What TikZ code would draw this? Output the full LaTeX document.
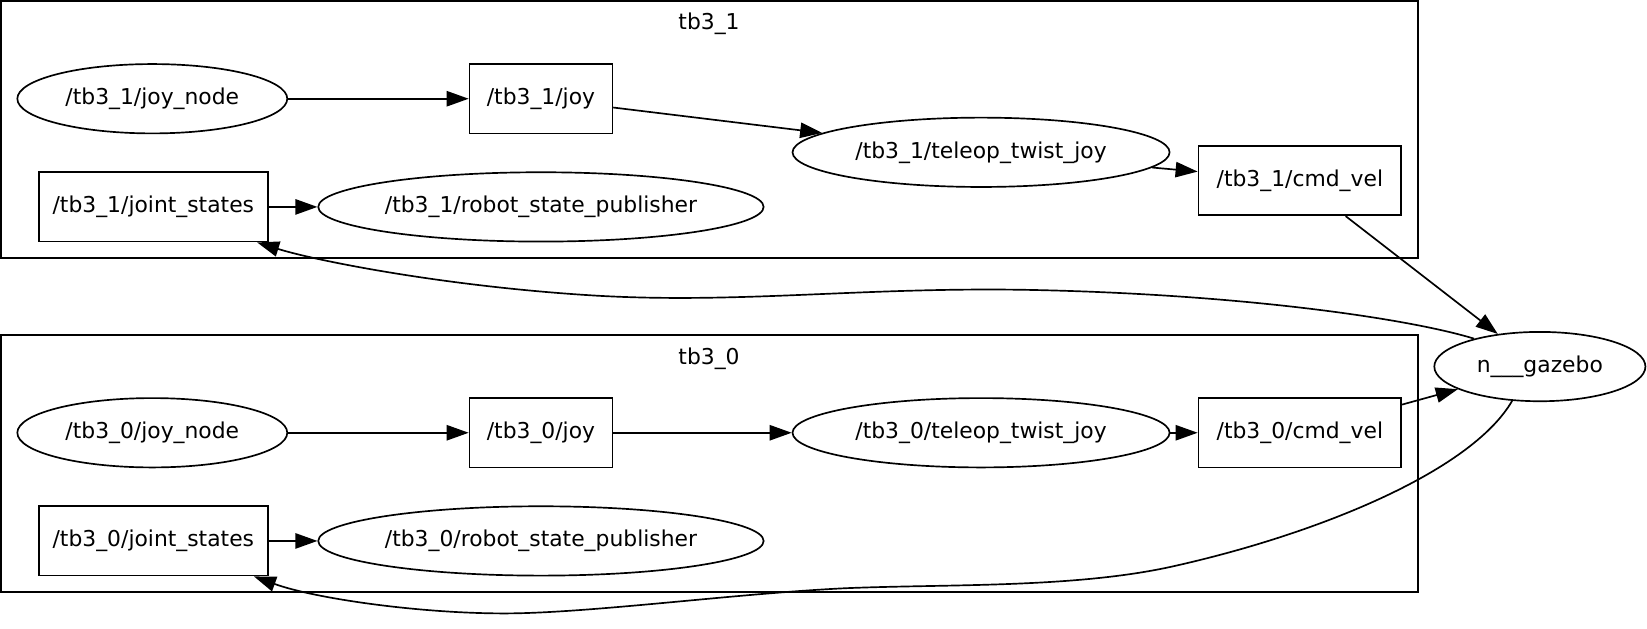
\documentclass[tikz,border=0pt]{standalone}
\usepackage{fontspec}
\setmainfont{DejaVu Sans}
\usetikzlibrary{arrows.meta,shapes.geometric}

\tikzset{
  topic/.style={draw, rectangle, line width=0.8pt, inner sep=0pt, minimum height=33pt},
  rosnode/.style={draw, ellipse, line width=0.8pt, inner sep=0pt, minimum height=33pt},
  cluster/.style={draw, line width=1pt},
  link/.style={line width=0.8pt, -{Triangle[length=10.5pt, width=7.3pt]}},
}

\begin{document}
\begin{tikzpicture}[x=0.5pt, y=-0.5pt, font=\fontsize{10.4}{12}\selectfont]
    \useasboundingbox (0,0) rectangle (1568,598);
    % clusters
    \draw[cluster] (1,1) rectangle (1350,246);
    \node (c1) at (675,23) {tb3\_1};
    \draw[cluster] (1,319) rectangle (1350,564);
    \node (c0) at (675,342) {tb3\_0};

    % tb3_1
    \node[rosnode, minimum width=128.5pt] (jn1) at (145,94) {/tb3\_1/joy\_node};
    \node[topic, minimum width=68pt] (j1) at (515,94) {/tb3\_1/joy};
    \node[rosnode, minimum width=179.5pt] (tt1) at (934,145) {/tb3\_1/teleop\_twist\_joy};
    \node[topic, minimum width=96.5pt] (cv1) at (1237.5,172) {/tb3\_1/cmd\_vel};
    \node[topic, minimum width=109pt] (js1) at (146,197) {/tb3\_1/joint\_states};
    \node[rosnode, minimum width=212pt] (rsp1) at (515,197) {/tb3\_1/robot\_state\_publisher};

    % tb3_0
    \node[rosnode, minimum width=128.5pt] (jn0) at (145,412) {/tb3\_0/joy\_node};
    \node[topic, minimum width=68pt] (j0) at (515,412) {/tb3\_0/joy};
    \node[rosnode, minimum width=179.5pt] (tt0) at (934,412) {/tb3\_0/teleop\_twist\_joy};
    \node[topic, minimum width=96.5pt] (cv0) at (1237.5,412) {/tb3\_0/cmd\_vel};
    \node[topic, minimum width=109pt] (js0) at (146,515) {/tb3\_0/joint\_states};
    \node[rosnode, minimum width=212pt] (rsp0) at (515,515) {/tb3\_0/robot\_state\_publisher};

    % gazebo
    \node[rosnode, minimum width=100.5pt] (gz) at (1466,349) {n\_\_\_gazebo};

    \path (jn1) edge[link] (j1);
    \path (j1) edge[link] (tt1);
    \path (tt1) edge[link] (cv1);
    \path (js1) edge[link] (rsp1);
    \path (cv1) edge[link] (gz);

    \path (jn0) edge[link] (j0);
    \path (j0) edge[link] (tt0);
    \path (tt0) edge[link] (cv0);
    \path (js0) edge[link] (rsp0);
    \path (cv0) edge[link] (gz);

    \draw[link] (gz.157) .. controls (1340,303) and (1180,280) .. (980,276)
        .. controls (820,273) and (700,290) .. (560,281)
        .. controls (420,272) and (300,248) .. ([xshift=-5.5pt]js1.south east);
    \draw[link] (gz.-129) .. controls (1400,450) and (1250,510) .. (1113,540)
        .. controls (1020,560) and (900,556) .. (805,560)
        .. controls (700,565) and (560,584) .. (480,584)
        .. controls (400,584) and (300,570) .. ([xshift=-7pt]js0.south east);
\end{tikzpicture}
\end{document}
